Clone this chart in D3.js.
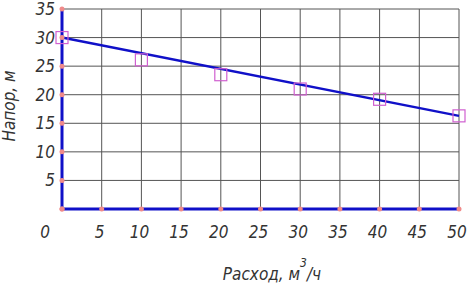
<!DOCTYPE html>
<html>
<head>
<meta charset="utf-8">
<script src="https://cdn.jsdelivr.net/npm/d3@7"></script>
<style>
  body { margin: 0; background: #fff; }
  text { font-family: "DejaVu Sans Condensed", "DejaVu Sans", sans-serif; font-stretch: condensed; font-style: italic; font-weight: 300; fill: #333; }
</style>
</head>
<body>
<div id="graph"></div>
<script>
var flow = [0, 10, 20, 30, 40, 50];
var head = [30, 26.1, 23.5, 21, 19.2, 16.3];
var trendFlow = [0, 50];
var trendHead = [30, 16.3];
var xTicks = [0, 5, 10, 15, 20, 25, 30, 35, 40, 45, 50];
var yTicks = [0, 5, 10, 15, 20, 25, 30, 35];

var width = 474, height = 287;
var margin = { top: 9, left: 62, bottom: 78, right: 15 };
var chartWidth = width - margin.left - margin.right;
var chartHeight = height - margin.top - margin.bottom;

var svg = d3.select("#graph").append("svg")
  .attr("width", width).attr("height", height);

var xScale = d3.scaleLinear().domain([0, 50]).range([margin.left, margin.left + chartWidth]);
var yScale = d3.scaleLinear().domain([0, 35]).range([margin.top + chartHeight, margin.top]);

var grid = svg.append("g").attr("stroke", "#555").attr("stroke-width", 1);
grid.selectAll(".vx").data(xTicks.slice(1)).enter().append("line")
  .attr("x1", function(d) { return xScale(d); }).attr("x2", function(d) { return xScale(d); })
  .attr("y1", yScale(0)).attr("y2", yScale(35));
grid.selectAll(".hy").data(yTicks.slice(1)).enter().append("line")
  .attr("x1", xScale(0)).attr("x2", xScale(50))
  .attr("y1", function(d) { return yScale(d); }).attr("y2", function(d) { return yScale(d); });

// axes
svg.append("line").attr("x1", xScale(0)).attr("x2", xScale(0))
  .attr("y1", yScale(0)).attr("y2", yScale(35))
  .attr("stroke", "#1010c8").attr("stroke-width", 3);
svg.append("line").attr("x1", xScale(0)).attr("x2", xScale(50))
  .attr("y1", yScale(0)).attr("y2", yScale(0))
  .attr("stroke", "#1010c8").attr("stroke-width", 3);

// trend line
var line = d3.line()
  .x(function(d, i) { return xScale(trendFlow[i]); })
  .y(function(d) { return yScale(d); });
svg.append("path").datum(trendHead).attr("d", line)
  .attr("fill", "none").attr("stroke", "#1010c8").attr("stroke-width", 2.5);

// tick dots
svg.selectAll(".dx").data(xTicks).enter().append("circle")
  .attr("cx", function(d) { return xScale(d); }).attr("cy", yScale(0))
  .attr("r", 2.5).attr("fill", "#f08a8a");
svg.selectAll(".dy").data(yTicks).enter().append("circle")
  .attr("cx", xScale(0)).attr("cy", function(d) { return yScale(d); })
  .attr("r", 2.5).attr("fill", "#f08a8a");

// data squares
svg.selectAll(".pt").data(flow).enter().append("rect")
  .attr("x", function(d) { return xScale(d) - 6; })
  .attr("y", function(d, i) { return yScale(head[i]) - 6; })
  .attr("width", 12).attr("height", 12)
  .attr("fill", "none").attr("stroke", "#d060d0").attr("stroke-width", 1.2);

// tick labels
svg.selectAll(".ly").data(yTicks.slice(1)).enter().append("text")
  .attr("x", 55).attr("y", function(d) { return yScale(d) + 6; })
  .attr("text-anchor", "end").attr("font-size", 17)
  .text(function(d) { return d; });
svg.selectAll(".lx").data(xTicks).enter().append("text")
  .attr("x", function(d) { return d === 0 ? 45 : xScale(d) - 2; })
  .attr("y", 238)
  .attr("text-anchor", "middle").attr("font-size", 17)
  .text(function(d) { return d; });

// titles
var xt = svg.append("text").attr("x", 272).attr("y", 280)
  .attr("text-anchor", "middle").attr("font-size", 17);
xt.append("tspan").text("Расход, м");
xt.append("tspan").attr("dy", -13).attr("font-size", 12).text("3");
xt.append("tspan").attr("dy", 13).text("/ч");

svg.append("text").attr("transform", "translate(15,106) rotate(-90)")
  .attr("text-anchor", "middle").attr("font-size", 17)
  .text("Напор, м");
</script>
</body>
</html>
